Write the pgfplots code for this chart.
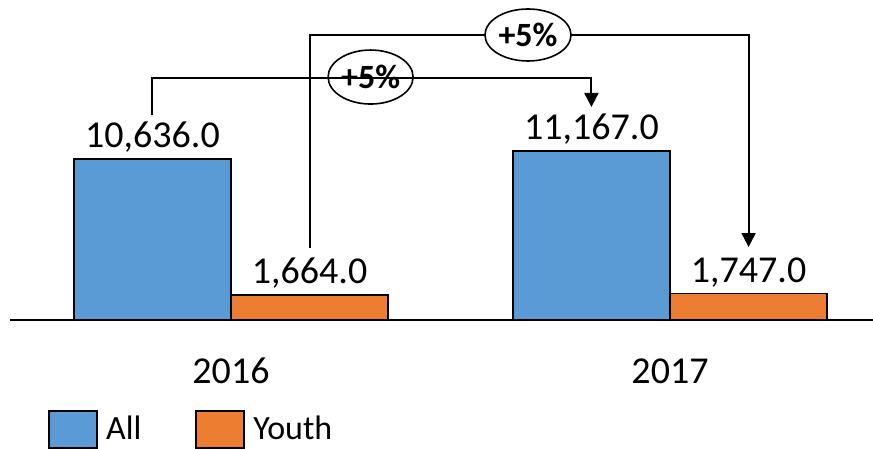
\documentclass[border=0pt]{standalone}
\usepackage{fontspec}
\setmainfont{Carlito}
\usepackage{pgfplots}
\pgfplotsset{compat=1.18}
\usetikzlibrary{arrows.meta,shapes.geometric}
\definecolor{allblue}{HTML}{5B9BD5}
\definecolor{youthorange}{HTML}{ED7D31}
\begin{document}
\begin{tikzpicture}
\path[use as bounding box] (0,0) rectangle (436.5pt,224.5pt);
\begin{axis}[
  at={(5pt,64.5pt)}, anchor=south west,
  scale only axis, width=431.5pt, height=160pt,
  xmin=-0.5034, xmax=1.4624, ymin=0, ymax=21139,
  axis y line=none, axis x line*=bottom,
  axis line style={line width=0.9pt, -},
  xtick={0,1}, xticklabels={2016,2017}, major tick length=0pt,
  xticklabel style={font=\fontsize{19}{23}\selectfont, anchor=base, yshift=-32pt, inner sep=0pt},
  clip=false,
  legend columns=2,
  legend style={at={(0.044,-0.342)}, anchor=west, draw=none, fill=none, inner sep=0pt,
    font=\fontsize{17}{20}\selectfont,
    /tikz/every odd column/.append style={column sep=2pt},
    /tikz/every even column/.append style={column sep=25pt}},
  legend cell align=left,
  nodes near coords={\pgfmathprintnumber[fixed,fixed zerofill,precision=1,1000 sep={,},assume math mode=true]{\pgfplotspointmeta}},
  every node near coord/.append style={font=\fontsize{19}{23}\selectfont, anchor=base, yshift=5.5pt, inner sep=0pt, text=black},
]
\addplot[ybar, bar width=0.3576, bar shift=0pt, fill=allblue, draw=black, line width=0.8pt,
  legend image code/.code={\draw[fill=allblue,draw=black,line width=0.9pt] (0pt,-9.25pt) rectangle (24pt,9.25pt);}]
  coordinates {(-0.179,10636) (0.821,11167)};
\addlegendentry{All}
\addplot[ybar, bar width=0.3576, bar shift=0pt, fill=youthorange, draw=black, line width=0.8pt,
  legend image code/.code={\draw[fill=youthorange,draw=black,line width=0.9pt] (0pt,-9.25pt) rectangle (24pt,9.25pt);}]
  coordinates {(0.179,1664) (1.179,1747)};
\addlegendentry{Youth}
% Youth arrow
\draw[line width=1pt, -{Triangle[length=7pt,width=7pt]}]
  (axis cs:0.179,4756) |- (axis cs:1.179,18827) -- (axis cs:1.179,4822);
\node[draw, ellipse, fill=white, line width=0.8pt, minimum width=43pt, minimum height=26pt, inner sep=0pt,
  font=\bfseries\fontsize{17}{20}\selectfont] at (axis cs:0.6765,18827) {+5\%};
% All arrow
\draw[line width=1pt, -{Triangle[length=7pt,width=7pt]}]
  (axis cs:-0.179,13543) |- (axis cs:0.821,15987) -- (axis cs:0.821,14071);
\node[draw, ellipse, line width=0.8pt, minimum width=42.5pt, minimum height=27pt, inner sep=0pt,
  font=\bfseries\fontsize{17}{20}\selectfont] at (axis cs:0.318,16050) {+5\%};
\end{axis}
\end{tikzpicture}
\end{document}
